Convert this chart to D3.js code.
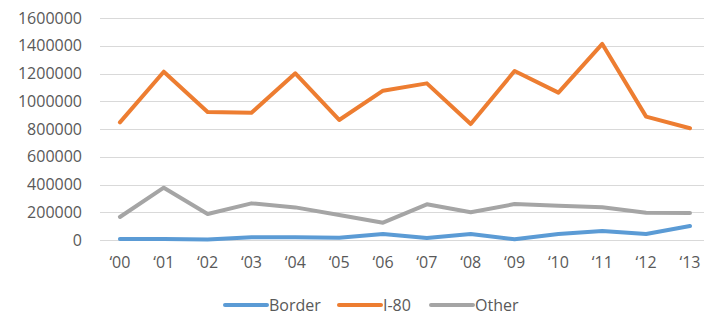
<!DOCTYPE html>
<html>
<head>
<meta charset="utf-8">
<script src="https://cdn.jsdelivr.net/npm/d3@7"></script>
<style>
  body { margin: 0; background: #fff; }
  text { font-family: "Open Sans", "Liberation Sans", sans-serif; fill: #595959; }
</style>
</head>
<body>
<div class="linechart"></div>
<script>
const years = ['‘00', '‘01', '‘02', '‘03', '‘04', '‘05', '‘06', '‘07', '‘08', '‘09', '‘10', '‘11', '‘12', '‘13'];
const border = [7000, 8000, 3000, 19000, 19000, 17000, 43000, 14000, 43000, 5000, 43000, 65000, 43000, 101000];
const i80 = [848000, 1213000, 922000, 917000, 1201000, 865000, 1076000, 1129000, 836000, 1218000, 1062000, 1413000, 889000, 805000];
const other = [166000, 377000, 187000, 264000, 235000, 180000, 125000, 257000, 200000, 259000, 247000, 236000, 197000, 195000];
const yTicks = [0, 200000, 400000, 600000, 800000, 1000000, 1200000, 1400000, 1600000];

const seriesNames = ['Border', 'I-80', 'Other'];
const colors = ['#5b9bd5', '#ed7d31', '#a5a5a5'];
const series = [border, i80, other];

const W = 704, H = 315;
const margin = {top: 18, right: 0, bottom: 75, left: 98};

const svg = d3.select('.linechart').append('svg')
  .attr('width', W)
  .attr('height', H);

const x = d3.scaleBand()
  .domain(years)
  .range([margin.left, margin.left + 14 * 43.85]);

const y = d3.scaleLinear()
  .domain([0, 1600000])
  .range([H - margin.bottom + 0, margin.top]);

// gridlines
svg.append('g')
  .selectAll('line')
  .data(yTicks)
  .enter().append('line')
    .attr('x1', 100)
    .attr('x2', W)
    .attr('y1', d => Math.round(y(d)) + 0.5)
    .attr('y2', d => Math.round(y(d)) + 0.5)
    .attr('stroke', '#d9d9d9')
    .attr('stroke-width', 1.2);

// y labels
svg.append('g')
  .selectAll('text')
  .data(yTicks)
  .enter().append('text')
    .attr('x', 82)
    .attr('y', d => y(d))
    .attr('dy', '0.35em')
    .attr('text-anchor', 'end')
    .style('font-size', '16px')
    .text(d => d);

// x labels
svg.append('g')
  .selectAll('text')
  .data(years)
  .enter().append('text')
    .attr('x', d => x(d) + x.bandwidth() / 2)
    .attr('y', 262)
    .attr('dy', '0.35em')
    .attr('text-anchor', 'middle')
    .style('font-size', '16px')
    .text(d => d);

const line = d3.line()
  .x((d, i) => x(years[i]) + x.bandwidth() / 2)
  .y(d => y(d));

svg.append('g')
  .selectAll('path')
  .data(series)
  .enter().append('path')
    .attr('d', d => line(d))
    .attr('fill', 'none')
    .attr('stroke', (d, i) => colors[i])
    .attr('stroke-width', 4)
    .attr('stroke-linejoin', 'round')
    .attr('stroke-linecap', 'round');

// legend
const legendX = [225, 339, 431];
const legend = svg.append('g')
  .selectAll('g')
  .data(seriesNames)
  .enter().append('g')
    .attr('transform', (d, i) => `translate(${legendX[i]}, 305)`);

legend.append('line')
  .attr('x1', 0)
  .attr('x2', 42)
  .attr('stroke', (d, i) => colors[i])
  .attr('stroke-width', 4)
  .attr('stroke-linecap', 'round');

legend.append('text')
  .attr('x', 44)
  .attr('dy', '0.35em')
  .style('font-size', '16px')
  .text(d => d);
</script>
</body>
</html>
